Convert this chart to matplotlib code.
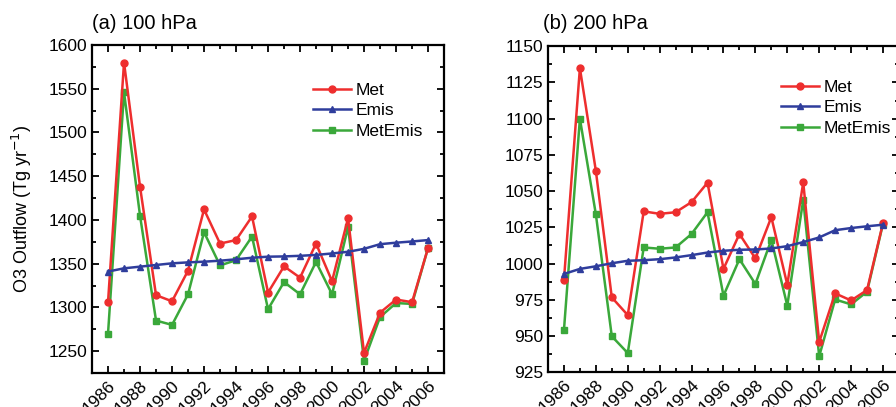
import matplotlib
matplotlib.use("Agg")
from matplotlib import pyplot as plt
from matplotlib.ticker import MultipleLocator

"""
Ozone outflow at 100 hPa and 200 hPa, 1986-2006
"""

years = list(range(1986, 2007))

# (a) 100 hPa
met_100 = [1306, 1580, 1438, 1314, 1307, 1342, 1412, 1373, 1377, 1404, 1317,
           1347, 1334, 1373, 1330, 1402, 1248, 1294, 1309, 1306, 1368]
emis_100 = [1341, 1344.7, 1346.6, 1348.5, 1350.4, 1351.5, 1352.3, 1353.4, 1355,
            1356.8, 1358, 1358.3, 1359, 1360, 1361.7, 1363.6, 1367, 1372.3,
            1374, 1375.4, 1377]
metemis_100 = [1270, 1546, 1405, 1285, 1280, 1315, 1386, 1348, 1354, 1381, 1298,
               1329, 1315, 1352, 1315, 1392, 1239, 1289, 1305, 1304, 1368]

# (b) 200 hPa
met_200 = [988.7, 1134.9, 1064, 976.6, 964.4, 1036, 1034.3, 1035.4, 1042.4,
           1055.8, 996.3, 1020.4, 1003.5, 1032, 985.4, 1056, 945.8, 979.4,
           974.5, 981.7, 1028]
emis_200 = [992.8, 996.3, 998.1, 1000.2, 1001.9, 1002.3, 1003, 1004.2, 1005.8,
            1007.6, 1008.8, 1009.5, 1009.7, 1010.4, 1012, 1014.8, 1018, 1023,
            1024.5, 1025.7, 1026.8]
metemis_200 = [954, 1100, 1034, 949.8, 938.2, 1011.1, 1010.2, 1011.1, 1020.4,
               1035.4, 977.8, 1003, 985.9, 1016.4, 971, 1044, 936, 975.2,
               971.8, 980.6, 1027.5]

RED = "#ee2e2e"
BLUE = "#2f3d9c"
GREEN = "#3aa83a"

plt.rcParams['font.family'] = ['Liberation Sans', 'DejaVu Sans']


def draw_panel(ax, met, emis, metemis, ylim, ymajor, leg_anchor):
    ax.plot(years, met, '-o', color=RED, lw=1.8, ms=5, label="Met", zorder=3)
    ax.plot(years, emis, '-^', color=BLUE, lw=1.8, ms=5, label="Emis", zorder=4)
    ax.plot(years, metemis, '-s', color=GREEN, lw=1.8, ms=4.5, label="MetEmis",
            zorder=2)

    ax.set_xlim(1985, 2007)
    ax.set_ylim(*ylim)
    ax.xaxis.set_major_locator(MultipleLocator(2))
    ax.xaxis.set_minor_locator(MultipleLocator(1))
    ax.yaxis.set_major_locator(MultipleLocator(ymajor))
    ax.yaxis.set_minor_locator(MultipleLocator(ymajor / 2))
    ax.tick_params(which='both', direction='in', top=True, right=True,
                   width=1.3, labelsize=12.5)
    ax.tick_params(which='major', length=5)
    ax.tick_params(which='minor', length=3)
    for lab in ax.get_xticklabels():
        lab.set_rotation(45)
        lab.set_ha('right')
        lab.set_rotation_mode('anchor')
    for s in ax.spines.values():
        s.set_linewidth(1.6)
    ax.legend(loc='upper left', frameon=False, fontsize=12.5, handlelength=2.2,
              handletextpad=0.25, labelspacing=0.3, borderpad=0,
              borderaxespad=0, bbox_to_anchor=leg_anchor)


def main():
    fig = plt.figure(figsize=(8.96, 4.07), dpi=100)
    ax1 = fig.add_axes([0.1027, 0.0835, 0.3929, 0.8059])
    ax2 = fig.add_axes([0.6116, 0.0855, 0.3917, 0.8010])

    draw_panel(ax1, met_100, emis_100, metemis_100, (1225, 1600), 50,
               (0.628, 0.885))
    draw_panel(ax2, met_200, emis_200, metemis_200, (925, 1150), 25,
               (0.664, 0.897))

    ax1.set_ylabel("O3 Outflow (Tg yr$^{-1}$)", fontsize=13, labelpad=10)

    fig.text(0.1027, 0.943, "(a) 100 hPa", fontsize=14.5, ha='left', va='center')
    fig.text(0.606, 0.943, "(b) 200 hPa", fontsize=14.5, ha='left', va='center')

    fig.savefig("out.png", dpi=100)


if __name__ == '__main__':
    main()
